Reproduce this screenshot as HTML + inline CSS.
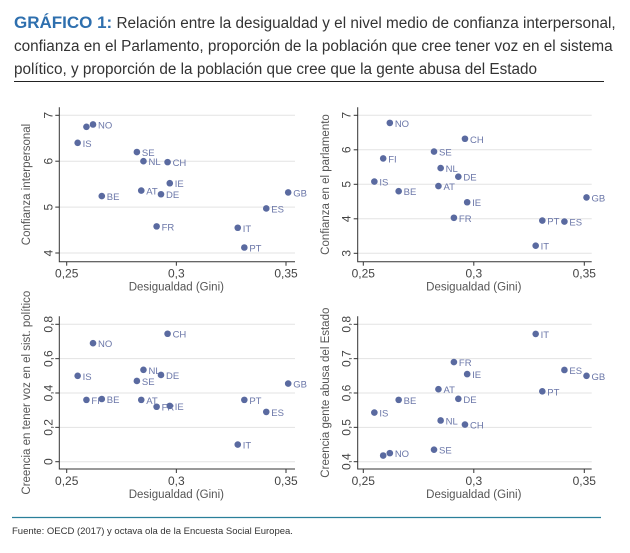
<!DOCTYPE html>
<html><head><meta charset="utf-8"><style>
body{margin:0;background:#fff;width:630px;height:548px;overflow:hidden;font-family:"Liberation Sans",sans-serif}
</style></head><body>
<svg id="c" width="630" height="548" xmlns="http://www.w3.org/2000/svg" font-family="Liberation Sans, sans-serif">
<text x="14" y="28" font-size="15.3" fill="#333"><tspan font-weight="bold" fill="#2e6fae" font-size="17">GRÁFICO 1:</tspan> Relación entre la desigualdad y el nivel medio de confianza interpersonal,</text>
<text x="14" y="51" font-size="15.3" fill="#333">confianza en el Parlamento, proporción de la población que cree tener voz en el sistema</text>
<text x="14" y="74" font-size="15.3" fill="#333">político, y proporción de la población que cree que la gente abusa del Estado</text>
<line x1="14" y1="81.5" x2="604" y2="81.5" stroke="#222" stroke-width="1"/>
<line x1="12" y1="517.5" x2="601" y2="517.5" stroke="#2a7f9a" stroke-width="1.2"/>
<text x="12" y="534" font-size="9.5" fill="#333">Fuente: OECD (2017) y octava ola de la Encuesta Social Europea.</text>
<g id="plots"></g>
</svg>
<script>
const countries = ["IS","FI","NO","BE","SE","AT","NL","FR","DE","CH","IE","IT","PT","ES","GB"];
const gini = [0.255,0.259,0.262,0.266,0.282,0.284,0.285,0.291,0.293,0.296,0.297,0.328,0.331,0.341,0.351];
const trustInterpersonal = [6.4,6.75,6.8,5.24,6.2,5.36,6.0,4.58,5.28,5.98,5.52,4.55,4.12,4.97,5.32];
const trustParliament = [5.08,5.75,6.78,4.8,5.95,4.95,5.47,4.03,5.22,6.32,4.48,3.22,3.95,3.92,4.62];
const politicalVoice = [0.50,0.36,0.69,0.365,0.47,0.36,0.535,0.32,0.505,0.745,0.325,0.10,0.36,0.29,0.455];
const stateAbuse = [0.543,0.418,0.425,0.58,0.435,0.611,0.52,0.69,0.583,0.508,0.655,0.772,0.605,0.667,0.65];
const xTicks = [0.25,0.3,0.35];
const xTickLabels = ["0,25","0,3","0,35"];
const yTicks1 = [4,5,6,7], yTickLabels1 = ["4","5","6","7"];
const yTicks2 = [3,4,5,6,7], yTickLabels2 = ["3","4","5","6","7"];
const yTicks3 = [0,0.2,0.4,0.6,0.8], yTickLabels3 = ["0","0,2","0,4","0,6","0,8"];
const yTicks4 = [0.4,0.5,0.6,0.7,0.8], yTickLabels4 = ["0,4","0,5","0,6","0,7","0,8"];
const hidden1 = ["FI"], hidden4 = ["FI"];

const NS="http://www.w3.org/2000/svg";
const root=document.getElementById('plots');
function mk(tag,attrs,parent){const e=document.createElementNS(NS,tag);for(const k in attrs)e.setAttribute(k,attrs[k]);(parent||root).appendChild(e);return e;}

function panel(cfg){
  const g=mk('g',{});
  
  
  const X=v=>cfg.x0+(v-0.25)/0.1*(cfg.x1-cfg.x0);
  const Y=v=>cfg.y0-(v-cfg.v0)/(cfg.v1-cfg.v0)*(cfg.y0-cfg.y1);
  cfg.yt.forEach((t,i)=>{
    const l=mk('line',{x1:cfg.left,x2:cfg.right,y1:Y(t),y2:Y(t),stroke:'#e3e3e3','stroke-width':1},g);
    
    
    mk('line',{x1:cfg.left-4,x2:cfg.left,y1:Y(t),y2:Y(t),stroke:'#333'},g);
    const tx=mk('text',{x:cfg.left-11,y:Y(t)+4,'font-size':12,fill:'#444','text-anchor':'middle',transform:`rotate(-90 ${cfg.left-11} ${Y(t)})`},g);
    tx.textContent=cfg.ytl[i];
    
    
  });
  const ax=mk('path',{d:`M${cfg.left},${cfg.y1-8}V${cfg.bottom}H${cfg.right}`,fill:'none',stroke:'#333','stroke-width':1},g);
  
  
  xTicks.forEach((t,i)=>{
    mk('line',{x1:X(t),x2:X(t),y1:cfg.bottom,y2:cfg.bottom+4,stroke:'#333'},g);
    const tx=mk('text',{x:X(t),y:cfg.bottom+16,'font-size':12,fill:'#444','text-anchor':'middle'},g);
    tx.textContent=xTickLabels[i];
    
    
  });
  const xt=mk('text',{x:(X(0.25)+X(0.35))/2,y:cfg.bottom+29,'font-size':11.5,fill:'#555','text-anchor':'middle'},g);
  xt.textContent='Desigualdad (Gini)';
  
  
  const cy=(cfg.y1-8+cfg.bottom)/2;
  const yt=mk('text',{x:cfg.ytx,y:cy,'font-size':11.5,fill:'#555','text-anchor':'middle',transform:`rotate(-90 ${cfg.ytx} ${cy})`},g);
  yt.textContent=cfg.ytitle;
  
  
  countries.forEach((c,i)=>{
    const px=X(gini[i]),py=Y(cfg.vals[i]);
    const d=mk('circle',{cx:px,cy:py,r:3.3,fill:'#5a6aa0'},g);
    
    
    if(cfg.hidden.indexOf(c)<0){
      const t=mk('text',{x:px+5,y:py+4,'font-size':9.5,fill:'#6a76a8'},g);
      t.textContent=c;
      
      
    }
  });
}
panel({name:'panel-interpersonal-trust',x0:66.7,x1:286,left:59.3,right:295,bottom:261.7,y0:253,y1:115.3,v0:4,v1:7,yt:yTicks1,ytl:yTickLabels1,vals:trustInterpersonal,ytitle:'Confianza interpersonal',ytx:30,hidden:hidden1});
panel({name:'panel-parliament-trust',x0:363.3,x1:584.3,left:357.7,right:591.7,bottom:261.7,y0:253.3,y1:115.3,v0:3,v1:7,yt:yTicks2,ytl:yTickLabels2,vals:trustParliament,ytitle:'Confianza en el parlamento',ytx:329,hidden:[]});
panel({name:'panel-political-voice',x0:66.7,x1:286,left:59.3,right:295,bottom:469,y0:461.7,y1:324.3,v0:0,v1:0.8,yt:yTicks3,ytl:yTickLabels3,vals:politicalVoice,ytitle:'Creencia en tener voz en el sist. político',ytx:30,hidden:[]});
panel({name:'panel-state-abuse',x0:363.3,x1:584.3,left:357.7,right:591.7,bottom:469,y0:461.7,y1:324.3,v0:0.4,v1:0.8,yt:yTicks4,ytl:yTickLabels4,vals:stateAbuse,ytitle:'Creencia gente abusa del Estado',ytx:329,hidden:hidden4});
</script>
</body></html>
